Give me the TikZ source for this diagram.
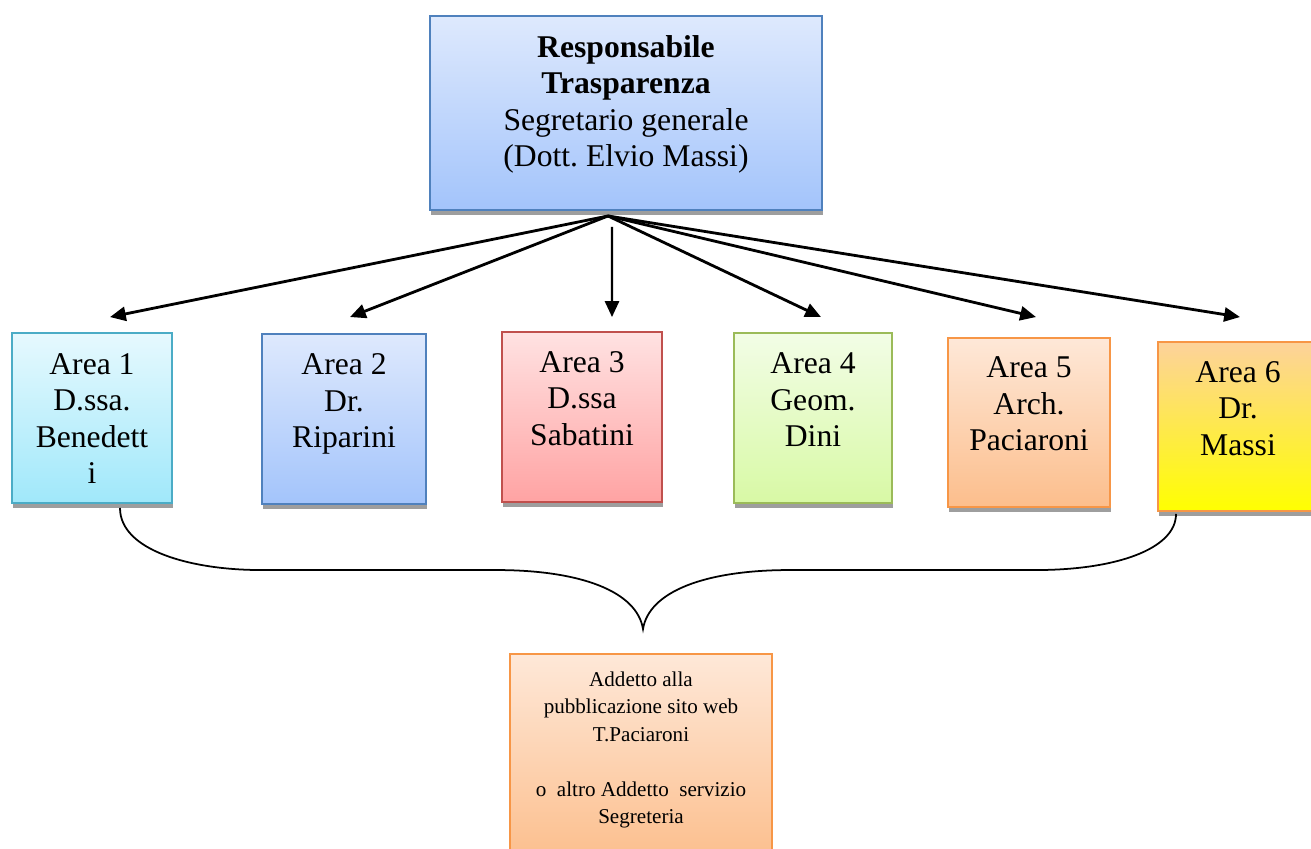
\documentclass[tikz,border=0pt]{standalone}
\usepackage{fontspec}
\setmainfont{Liberation Serif}
\usetikzlibrary{arrows.meta,shadows,calc}
\frenchspacing

\definecolor{blueline}{HTML}{4F81BD}
\definecolor{aqualine}{HTML}{4BACC6}
\definecolor{redline}{HTML}{C0504D}
\definecolor{greenline}{HTML}{9BBB59}
\definecolor{orangeline}{HTML}{F79646}

\begin{document}
\begin{tikzpicture}[
  box/.style={draw, line width=1.1pt, minimum width=3.2cm, minimum height=3.4cm, inner sep=0pt,
    drop shadow={shadow xshift=0.4pt, shadow yshift=-2.6pt, fill=black!38, opacity=1}},
  bluebox/.style={box, top color={rgb,255:red,222;green,233;blue,253}, bottom color={rgb,255:red,163;green,196;blue,251}, draw=blueline},
  aquabox/.style={box, top color={rgb,255:red,230;green,249;blue,254}, bottom color={rgb,255:red,160;green,232;blue,250}, draw=aqualine},
  redbox/.style={box, top color={rgb,255:red,255;green,226;blue,226}, bottom color={rgb,255:red,255;green,163;blue,163}, draw=redline},
  greenbox/.style={box, top color={rgb,255:red,242;green,253;blue,230}, bottom color={rgb,255:red,216;green,249;blue,165}, draw=greenline},
  orangebox/.style={box, top color={rgb,255:red,254;green,232;blue,216}, bottom color={rgb,255:red,252;green,190;blue,140}, draw=orangeline},
  yellowbox/.style={box, top color={rgb,255:red,253;green,210;blue,155}, bottom color={rgb,255:red,255;green,255;blue,0}, draw=orangeline},
  txt/.style={anchor=north, align=center, inner sep=0pt, font=\fontsize{18}{20.8}\selectfont},
  small/.style={anchor=north, align=center, inner sep=0pt, font=\fontsize{12}{15.7}\selectfont},
  arrow/.style={-{Triangle[length=9pt,width=8pt]}, line width=1.6pt},
  brace/.style={line width=1pt},
]
\clip (0,0) rectangle (26.22,-16.98);

% --- Responsabile ---
\node[bluebox, minimum width=7.84cm, minimum height=3.88cm] (top) at (12.52,-2.26) {};
\node[txt] (ttop) at ([yshift=-0.40cm]top.north)
  {\textbf{Responsabile}\\\textbf{Trasparenza}\\Segretario generale\\(Dott. Elvio Massi)};

% --- Aree ---
\node[aquabox] (a1) at (1.84,-8.36) {};
\node[bluebox, minimum width=3.28cm] (a2) at (6.88,-8.38) {};
\node[redbox] (a3) at (11.64,-8.34) {};
\node[greenbox, minimum width=3.16cm] (a4) at (16.26,-8.36) {};
\node[orangebox, minimum width=3.24cm, minimum height=3.38cm] (a5) at (20.58,-8.45) {};
\node[yellowbox, minimum height=3.38cm] (a6) at (24.76,-8.53) {};

\node[txt] (t1) at ([yshift=-0.42cm]a1.north) {Area 1\\D.ssa.\\Benedett\\i};
\node[txt] (t2) at ([yshift=-0.41cm]a2.north) {Area 2\\Dr.\\Riparini};
\node[txt] (t3) at ([yshift=-0.40cm]a3.north) {Area 3\\D.ssa\\Sabatini};
\node[txt] (t4) at ([yshift=-0.41cm]a4.north) {Area 4\\Geom.\\Dini};
\node[txt] (t5) at ([yshift=-0.39cm]a5.north) {Area 5\\Arch.\\Paciaroni};
\node[txt] (t6) at ([yshift=-0.40cm]a6.north) {Area 6\\Dr.\\Massi};

% --- Addetto ---
\node[orangebox, minimum width=5.24cm, minimum height=4.2cm] (bot) at (12.82,-15.18) {};
\node[small] (tbot) at ([yshift=-0.36cm]bot.north)
  {Addetto alla\\pubblicazione sito web\\T.Paciaroni\\[15.7pt]o~ altro Addetto~ servizio\\Segreteria};

% arrows from the top box
\coordinate (hub) at ([shift={(-0.36,-0.1)}]top.south);
\draw[arrow] (hub) -- ([shift={(0.36,0.30)}]a1.north);
\draw[arrow] (hub) -- ([shift={(0.12,0.32)}]a2.north);
\draw[arrow, line width=1.3pt] ([shift={(-0.28,-0.32)}]top.south) -- ([shift={(0.6,0.28)}]a3.north);
\draw[arrow] (hub) -- ([shift={(0.16,0.30)}]a4.north);
\draw[arrow] (hub) -- ([shift={(0.14,0.40)}]a5.north);
\draw[arrow] (hub) -- ([shift={(0.04,0.48)}]a6.north);

% brace over the areas
\coordinate (bl) at ([shift={(0.56,-0.08)}]a1.south);
\coordinate (br) at ([shift={(-1.24,-0.04)}]a6.south);
\coordinate (tip) at ([shift={(0.04,0.48)}]bot.north);
\draw[brace] (bl) .. controls +(0,-0.85) and +(-1.4,0) .. ($(tip)+(-7.64,1.18)$)
  -- ($(tip)+(-2.94,1.18)$) .. controls +(1.7,0) and +(-0.12,0.75) .. (tip)
  .. controls +(0.12,0.75) and +(-1.7,0) .. ($(tip)+(2.94,1.18)$)
  -- ($(tip)+(7.86,1.18)$) .. controls +(1.6,0) and +(0,-0.7) .. (br);
\end{tikzpicture}
\end{document}
